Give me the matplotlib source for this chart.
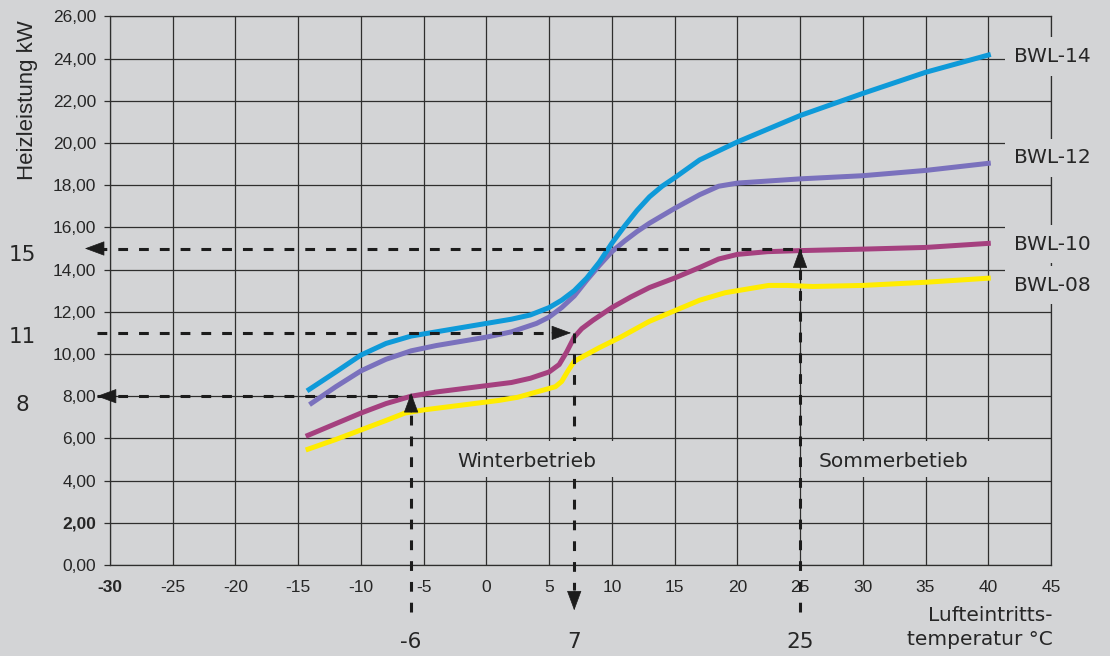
import matplotlib
matplotlib.use("Agg")
import matplotlib.pyplot as plt
from matplotlib.patches import Rectangle

# ---------------- data ----------------
x_bwl14 = [-14.3, -12, -10, -8, -6, -4, -2, 0, 2, 3.5, 5, 6, 7, 8, 9, 10, 11, 12, 13, 14, 15,
           17, 20, 25, 30, 35, 40.2]
y_bwl14 = [8.25, 9.15, 9.95, 10.5, 10.85, 11.05, 11.25, 11.45, 11.65, 11.85, 12.2, 12.55, 13.0, 13.6, 14.35,
           15.25, 16.05, 16.8, 17.45, 17.95, 18.35, 19.2, 20.05, 21.3, 22.35, 23.35, 24.2]

x_bwl12 = [-14.1, -12, -10, -8, -6, -4, -2, 0, 2, 4, 5, 6, 7, 8, 9, 10, 11, 12, 13, 15, 17, 18.5,
           20, 25, 30, 35, 40.2]
y_bwl12 = [7.6, 8.45, 9.2, 9.75, 10.15, 10.4, 10.6, 10.8, 11.05, 11.45, 11.75, 12.2, 12.75, 13.5, 14.2,
           14.85, 15.35, 15.8, 16.2, 16.9, 17.55, 17.95, 18.1, 18.3, 18.45, 18.7, 19.05]

x_bwl10 = [-14.4, -12, -10, -8, -6, -4, -2, 0, 2, 3.5, 5, 5.8, 6.4, 7, 7.6, 8.5, 10, 11.5, 13, 15, 17,
           18.5, 20, 22.4, 25, 30, 35, 40.2]
y_bwl10 = [6.1, 6.7, 7.2, 7.65, 8.0, 8.2, 8.35, 8.5, 8.65, 8.85, 9.15, 9.5, 10.1, 10.8, 11.2, 11.6, 12.2,
           12.7, 13.15, 13.6, 14.1, 14.5, 14.72, 14.85, 14.9, 14.97, 15.05, 15.25]

x_bwl08 = [-14.4, -12, -10, -8, -6.5, -5, -3, -1, 1, 2.5, 4, 5.5, 6, 6.5, 7, 7.6, 9, 10.7, 13, 15, 17,
           19, 20.5, 22.5, 24, 26, 30, 35, 40.2]
y_bwl08 = [5.45, 5.95, 6.4, 6.85, 7.2, 7.35, 7.5, 7.65, 7.8, 7.95, 8.2, 8.45, 8.7, 9.2, 9.65, 9.85, 10.3,
           10.8, 11.55, 12.05, 12.55, 12.9, 13.05, 13.25, 13.25, 13.2, 13.25, 13.4, 13.6]

series_names = ["BWL-08", "BWL-10", "BWL-12", "BWL-14"]
series_label_y = [13.27, 15.2, 19.3, 24.1]

ann_x = [-6, 7, 25]
ann_y = [8, 11, 15]

x_ticks = [-30, -25, -20, -15, -10, -5, 0, 5, 10, 15, 20, 25, 30, 35, 40, 45]
y_ticks = [0, 2, 4, 6, 8, 10, 12, 14, 16, 18, 20, 22, 24, 26]
y_ticklabels = ["0,00", "2,00", "4,00", "6,00", "8,00", "10,00", "12,00", "14,00",
                "16,00", "18,00", "20,00", "22,00", "24,00", "26,00"]

# ---------------- style ----------------
BG = "#d3d4d6"
GRID = "#2e2e2e"
DARK = "#1c1c1c"
TXT = "#262626"
colors = {"BWL-08": "#ffec00", "BWL-10": "#a5407f", "BWL-12": "#7a71bd", "BWL-14": "#0e9ad9"}
LABEL_FONT = ["DejaVu Sans"]
TICK_FONT = ["Liberation Sans", "DejaVu Sans"]

fig = plt.figure(figsize=(11.1, 6.56), dpi=100, facecolor=BG)
ax = fig.add_axes([110 / 1110, 1 - 565 / 656, (1051 - 110) / 1110, (565 - 16.4) / 656])
ax.set_facecolor(BG)
ax.set_xlim(-30, 45)
ax.set_ylim(0, 26)
ax.set_axisbelow(True)

ax.set_xticks(x_ticks)
ax.set_xticklabels([str(v) for v in x_ticks], family=TICK_FONT, fontsize=12.5, color=TXT)
ax.set_yticks(y_ticks)
ax.set_yticklabels(y_ticklabels, family=TICK_FONT, fontsize=12.5, color=TXT)
ax.get_yticklabels()[1].set_fontweight("bold")
ax.get_xticklabels()[0].set_fontweight("bold")
ax.tick_params(axis="x", length=0, pad=11)
ax.tick_params(axis="y", length=4, width=0.9, color=GRID, pad=6)
ax.grid(True, color=GRID, lw=0.9)
for s in ax.spines.values():
    s.set_color(GRID)
    s.set_linewidth(0.9)

# curves
data = {"BWL-08": (x_bwl08, y_bwl08), "BWL-10": (x_bwl10, y_bwl10),
        "BWL-12": (x_bwl12, y_bwl12), "BWL-14": (x_bwl14, y_bwl14)}
for name in series_names:
    xs, ys = data[name]
    ax.plot(xs, ys, color=colors[name], lw=3.6, solid_capstyle="butt",
            solid_joinstyle="round", zorder=2)

# dashed annotation lines
dash = dict(color=DARK, lw=2.2, linestyle=(0, (3.2, 3.6)), zorder=3, clip_on=False)
x_left = -31.0
y_low = -2.25
ax.plot([x_left, ann_x[0]], [ann_y[0], ann_y[0]], **dash)
ax.plot([ann_x[0], ann_x[0]], [y_low, ann_y[0]], **dash)
ax.plot([x_left, ann_x[1]], [ann_y[1], ann_y[1]], **dash)
ax.plot([ann_x[1], ann_x[1]], [ann_y[1], -1.2], **dash)
ax.plot([x_left, ann_x[2]], [ann_y[2], ann_y[2]], **dash)
ax.plot([ann_x[2], ann_x[2]], [y_low, ann_y[2]], **dash)

def arrow(tip, offset):
    ax.annotate("", xy=tip, xycoords="data", xytext=offset, textcoords="offset points",
                arrowprops=dict(arrowstyle="-|>,head_length=0.65,head_width=0.24",
                                mutation_scale=20, color=DARK, lw=0.5,
                                shrinkA=0, shrinkB=0),
                zorder=5, annotation_clip=False)

arrow((-31.05, ann_y[0]), (14, 0))
arrow((ann_x[0], ann_y[0] + 0.15), (0, -14))
arrow((ann_x[1] - 0.25, ann_y[1]), (-14, 0))
arrow((ann_x[1], -2.15), (0, 14))
arrow((-32.0, ann_y[2]), (14, 0))
arrow((ann_x[2], ann_y[2]), (0, -14))

# masking boxes for mode labels
ax.add_patch(Rectangle((-4.85, 4.15), 16.5, 1.72, facecolor=BG, edgecolor="none", zorder=3.5))
ax.add_patch(Rectangle((25.12, 4.15), 19.75, 1.72, facecolor=BG, edgecolor="none", zorder=3.5))
ax.text(-2.3, 4.92, "Winterbetrieb", family=LABEL_FONT, fontsize=14.5, color=TXT,
        va="center", ha="left", zorder=6)
ax.text(26.5, 4.92, "Sommerbetieb", family=LABEL_FONT, fontsize=14.5, color=TXT,
        va="center", ha="left", zorder=6)

# series labels
for name, ly in zip(series_names, series_label_y):
    ax.text(42.07, ly, name, family=LABEL_FONT, fontsize=14.5, color=TXT, va="center", ha="left",
            zorder=6, bbox=dict(facecolor=BG, edgecolor="none", pad=7))

# value labels
for xv, lab in zip(ann_x, ["-6", "7", "25"]):
    ax.text(xv, -3.65, lab, family=LABEL_FONT, fontsize=15.5, color=TXT, ha="center", va="center",
            clip_on=False)
for yv, lab in zip([7.6, 10.8, 14.7], ["8", "11", "15"]):
    ax.text(-37.0, yv, lab, family=LABEL_FONT, fontsize=15.5, color=TXT, ha="center", va="center",
            clip_on=False)

ax.text(45.1, -2.95, "Lufteintritts-\ntemperatur °C", family=LABEL_FONT, fontsize=14.5, color=TXT,
        ha="right", va="center", multialignment="right", linespacing=1.35, clip_on=False)

fig.text(28 / 1110, 1 - 100 / 656, "Heizleistung kW", family=TICK_FONT, fontsize=16, color=TXT,
         rotation=90, ha="center", va="center")

fig.savefig("out.png", dpi=100, facecolor=BG)
